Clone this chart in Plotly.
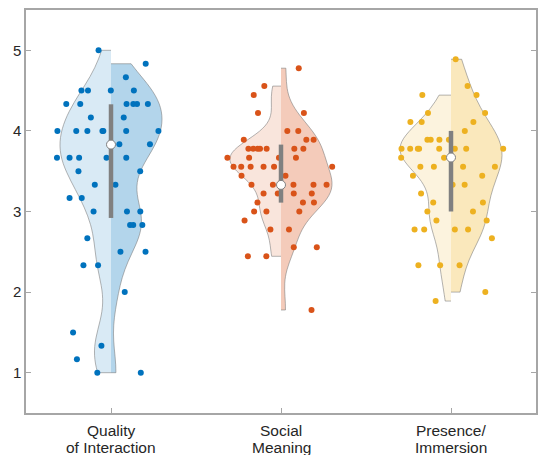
import plotly.graph_objects as go

cat_line1 = ["Quality", "Social", "Presence/"]
cat_line2 = ["of Interaction", "Meaning", "Immersion"]
positions = [1, 2, 3]

# Left (lighter) half values per category
left_1 = [5.0, 4.5, 4.5, 4.333, 4.333, 4.167, 4.0, 4.0, 4.0, 4.0,
          3.667, 3.667, 3.667, 3.667, 3.667, 3.5, 3.333, 3.167, 3.167, 3.0,
          2.667, 2.333, 2.333, 1.5, 1.333, 1.167, 1.0]
right_1 = [4.833, 4.667, 4.5, 4.5, 4.333, 4.333, 4.333, 4.333, 4.167, 4.0,
           4.0, 4.0, 3.833, 3.833, 3.833, 3.667, 3.5, 3.333, 3.0, 3.0,
           2.833, 2.833, 2.833, 2.5, 2.5, 2.0, 1.0]
left_2 = [4.556, 4.444, 4.222, 3.889, 3.778, 3.778, 3.778, 3.778, 3.778,
          3.667, 3.667, 3.667, 3.556, 3.556, 3.556, 3.556, 3.556, 3.444,
          3.333, 3.222, 3.111, 3.0, 3.0, 2.889, 2.778, 2.444, 2.444]
right_2 = [4.778, 4.222, 4.0, 4.0, 3.889, 3.889, 3.778, 3.778, 3.667, 3.667,
           3.556, 3.444, 3.333, 3.333, 3.333, 3.333, 3.222, 3.222, 3.222,
           3.111, 3.111, 3.0, 2.778, 2.556, 2.556, 1.778]
left_3 = [4.444, 4.222, 4.111, 4.111, 3.889, 3.889, 3.889, 3.778, 3.778,
          3.778, 3.778, 3.778, 3.667, 3.667, 3.556, 3.556, 3.444, 3.222,
          3.111, 3.0, 2.889, 2.778, 2.778, 2.333, 2.333, 1.889]
right_3 = [4.889, 4.556, 4.444, 4.222, 4.111, 4.0, 3.889, 3.778, 3.778,
           3.778, 3.778, 3.556, 3.556, 3.444, 3.333, 3.333, 3.111, 3.0,
           2.889, 2.778, 2.778, 2.667, 2.333, 2.0]

# Box summary
q1 = [2.92, 3.11, 3.0]
median = [3.83, 3.33, 3.67]
q3 = [4.33, 3.83, 4.0]

colors = ["#0072BD", "#D95319", "#EDB120"]
left_fill = ["rgb(217,234,245)", "rgb(249,229,220)", "rgb(252,243,222)"]
right_fill = ["rgb(179,213,235)", "rgb(244,203,186)", "rgb(250,232,188)"]
left_bw = [0.33, 0.2, 0.25]
right_bw = [0.3, 0.25, 0.3]

lefts = [left_1, left_2, left_3]
rights = [right_1, right_2, right_3]

fig = go.Figure()
for i in range(3):
    for vals, side, fill, pp, bw in [(lefts[i], "negative", left_fill[i], -0.45, left_bw[i]),
                                     (rights[i], "positive", right_fill[i], 0.45, right_bw[i])]:
        fig.add_trace(go.Violin(
            x=[positions[i]] * len(vals), y=vals, side=side,
            width=0.6, spanmode="hard", scalemode="width", bandwidth=bw,
            fillcolor=fill, line=dict(color="rgba(120,120,120,0.7)", width=0.8),
            points="all", pointpos=pp, jitter=0.7,
            marker=dict(color=colors[i], size=6, line=dict(width=0)),
            box_visible=False, meanline_visible=False,
            showlegend=False, hoverinfo="skip"))

for i in range(3):
    fig.add_trace(go.Scatter(
        x=[positions[i], positions[i]], y=[q1[i], q3[i]], mode="lines",
        line=dict(color="rgb(128,128,128)", width=4.5),
        showlegend=False, hoverinfo="skip"))
fig.add_trace(go.Scatter(
    x=positions, y=median, mode="markers",
    marker=dict(color="white", size=9, line=dict(color="rgb(128,128,128)", width=1)),
    showlegend=False, hoverinfo="skip"))

label_font = dict(family="Liberation Sans, Arial", size=15.5, color="#262626")
for i in range(3):
    fig.add_annotation(x=positions[i], xref="x", y=0, yref="paper", text=cat_line1[i],
                       showarrow=False, yanchor="middle", yshift=-17, borderpad=0,
                       font=label_font)
    fig.add_annotation(x=positions[i], xref="x", y=0, yref="paper", text=cat_line2[i],
                       showarrow=False, yanchor="middle", yshift=-34.5, borderpad=0,
                       font=label_font)

axis_common = dict(showgrid=False, zeroline=False, showline=True, linecolor="#a6a6a6",
                   linewidth=1.5, ticks="inside", tickcolor="#a6a6a6", ticklen=5,
                   tickwidth=1, automargin=False,
                   tickfont=dict(family="Liberation Sans, Arial", size=15, color="#262626"))
fig.update_layout(
    width=539, height=455, margin=dict(l=26, r=3, t=10, b=42),
    plot_bgcolor="white", paper_bgcolor="white", violinmode="overlay", violingap=0,
    xaxis=dict(range=[0.5, 3.5], tickmode="array", tickvals=positions,
               ticktext=["", "", ""], mirror=True, **axis_common),
    yaxis=dict(range=[0.5, 5.5], tickmode="array", tickvals=[1, 2, 3, 4, 5],
               mirror="ticks", **axis_common),
)
fig.write_html("out.html", config={"displayModeBar": False},
               post_script="document.body.style.margin='0';")
